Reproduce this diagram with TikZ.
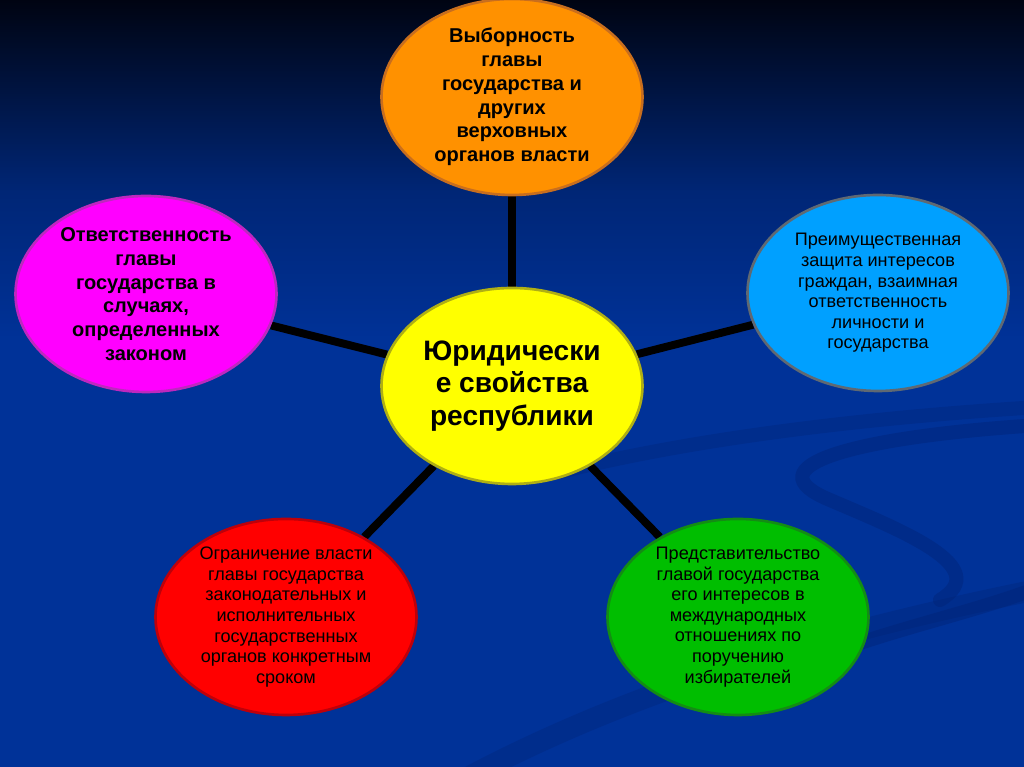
\documentclass[tikz,border=0pt]{standalone}
\usepackage{fontspec}
\setmainfont{Liberation Sans}
\usepackage{tikz}
\usetikzlibrary{shapes.geometric}
\usetikzlibrary{backgrounds}
\tikzset{>=latex}
\definecolor{bgtop}{RGB}{0,4,18}
\definecolor{bgmid}{RGB}{0,38,118}
\definecolor{bgblue}{RGB}{0,50,152}
\definecolor{swooshblue}{RGB}{0,34,115}
\definecolor{orangefill}{RGB}{255,145,0}
\definecolor{orangeline}{RGB}{200,110,30}
\definecolor{magentafill}{RGB}{255,0,255}
\definecolor{magentaline}{RGB}{190,40,190}
\definecolor{bluefill}{RGB}{0,160,255}
\definecolor{blueline}{RGB}{95,105,115}
\definecolor{yellowfill}{RGB}{255,255,0}
\definecolor{yellowline}{RGB}{175,175,20}
\definecolor{redfill}{RGB}{255,0,0}
\definecolor{redline}{RGB}{190,0,10}
\definecolor{greenfill}{RGB}{0,190,0}
\definecolor{greenline}{RGB}{20,140,20}
\tikzset{
    prop/.style={ellipse, draw, line width=1.5pt, minimum width=5.22cm, minimum height=3.92cm,
        inner sep=0pt, inner ysep=-0.6cm, align=center, text=black},
    boldtext/.style={font=\bfseries\fontsize{11.4}{13.5}\selectfont},
    plaintext/.style={font=\fontsize{10.3}{11.75}\selectfont},
    link/.style={line width=4.5pt, black},
    swoosh/.style={line width=8pt, swooshblue, opacity=0.4, line cap=round}
}

\begin{document}
\begin{tikzpicture}
    \useasboundingbox (0,0) rectangle (20.48,15.34);
    \node[prop, fill=yellowfill, draw=yellowline, font=\bfseries\fontsize{16}{18.6}\selectfont] (rep) at (10.24,7.62) {Юридически\\е свойства\\республики};
    \node[prop, fill=orangefill, draw=orangeline, boldtext] (elect) at (10.24,13.4) {Выборность\\главы\\государства и\\других\\верховных\\органов власти};
    \node[prop, fill=magentafill, draw=magentaline, boldtext] (resp) at (2.92,9.46) {Ответственность\\главы\\государства в\\случаях,\\определенных\\законом};
    \node[prop, fill=bluefill, draw=blueline, plaintext] (protect) at (17.56,9.48) {Преимущественная\\защита интересов\\граждан, взаимная\\ответственность\\личности и\\государства};
    \node[prop, fill=redfill, draw=redline, plaintext] (limit) at (5.72,3.0) {Ограничение власти\\главы государства\\законодательных и\\исполнительных\\государственных\\органов конкретным\\сроком};
    \node[prop, fill=greenfill, draw=greenline, plaintext] (repr) at (14.76,3.0) {Представительство\\главой государства\\его интересов в\\международных\\отношениях по\\поручению\\избирателей};
    \begin{pgfonlayer}{background}
        \shade[top color=bgtop, bottom color=bgmid] (0,11.5) rectangle (20.48,15.34);
        \shade[top color=bgmid, bottom color=bgblue] (0,8.5) rectangle (20.48,11.5);
        \fill[bgblue] (0,0) rectangle (20.48,8.5);
        \draw[swoosh, line width=12pt, opacity=0.3] (9.0,-0.4) .. controls (13,1.8) and (17.5,2.9) .. (21,3.6);
        \draw[swoosh] (16.4,2.2) .. controls (18,2.8) and (19.5,3.1) .. (20.8,3.6);
        \draw[swoosh, opacity=0.3] (11.2,5.9) .. controls (14,6.6) and (17.5,7.0) .. (20.8,7.2);
        \draw[swoosh] (20.8,6.84) .. controls (17.0,6.6) and (15.0,6.0) .. (16.6,5.34)
            .. controls (18.0,4.74) and (19.9,4.0) .. (18.8,3.34);
        \draw[link] (rep) -- (elect);
        \draw[link] (rep) -- (resp);
        \draw[link] (rep) -- (protect);
        \draw[link] (rep) -- (limit);
        \draw[link] (rep) -- (repr);
    \end{pgfonlayer}
\end{tikzpicture}
\end{document}
